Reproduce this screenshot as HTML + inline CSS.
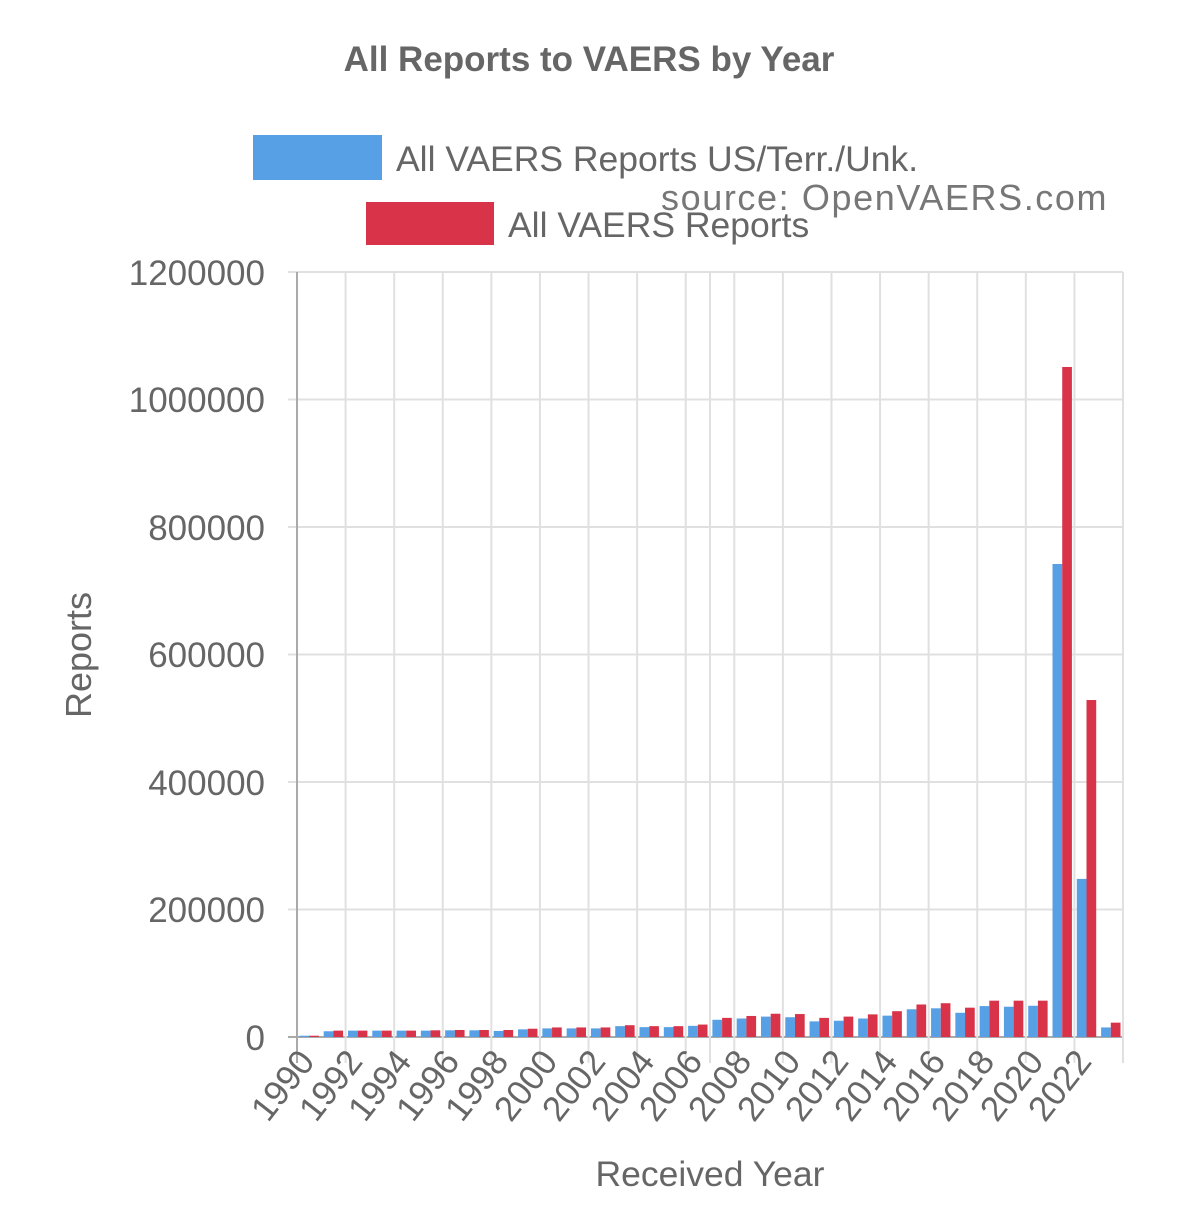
<!DOCTYPE html>
<html><head><meta charset="utf-8"><style>
body{margin:0;background:#fff;}
svg{display:block;font-family:"Liberation Sans",sans-serif;}
</style></head><body>
<svg id="c" width="1179" height="1226" viewBox="0 0 1179 1226">
<g id="grid"></g>
<g id="bars"></g>
<text x="589" y="71" font-size="35" font-weight="bold" fill="#666" text-anchor="middle">All Reports to VAERS by Year</text>
<rect x="253" y="135" width="129" height="45" fill="#57a0e5"/>
<text x="396" y="171" font-size="35.5" fill="#666">All VAERS Reports US/Terr./Unk.</text>
<rect x="366" y="202" width="128" height="43" fill="#d9334a"/>
<text x="508" y="237" font-size="35.5" fill="#666">All VAERS Reports</text>
<text x="661" y="210" font-size="36" fill="#777" letter-spacing="1.6">source: OpenVAERS.com</text>
<g font-size="35" fill="#666" text-anchor="end">
<text x="265" y="285">1200000</text>
<text x="265" y="412">1000000</text>
<text x="265" y="540">800000</text>
<text x="265" y="667">600000</text>
<text x="265" y="795">400000</text>
<text x="265" y="922">200000</text>
<text x="265" y="1050">0</text>
</g>
<text transform="translate(91,655) rotate(-90)" font-size="36" fill="#666" text-anchor="middle">Reports</text>
<text x="710" y="1186" font-size="35.5" fill="#666" text-anchor="middle">Received Year</text>
<g font-size="35" fill="#666" text-anchor="end">
<text transform="translate(316,1062) rotate(-52)">1990</text>
<text transform="translate(364,1062) rotate(-52)">1992</text>
<text transform="translate(413,1062) rotate(-52)">1994</text>
<text transform="translate(461,1062) rotate(-52)">1996</text>
<text transform="translate(510,1062) rotate(-52)">1998</text>
<text transform="translate(559,1062) rotate(-52)">2000</text>
<text transform="translate(607,1062) rotate(-52)">2002</text>
<text transform="translate(656,1062) rotate(-52)">2004</text>
<text transform="translate(704,1062) rotate(-52)">2006</text>
<text transform="translate(753,1062) rotate(-52)">2008</text>
<text transform="translate(802,1062) rotate(-52)">2010</text>
<text transform="translate(850,1062) rotate(-52)">2012</text>
<text transform="translate(899,1062) rotate(-52)">2014</text>
<text transform="translate(947,1062) rotate(-52)">2016</text>
<text transform="translate(996,1062) rotate(-52)">2018</text>
<text transform="translate(1045,1062) rotate(-52)">2020</text>
<text transform="translate(1093,1062) rotate(-52)">2022</text>
</g>
</svg>
<script>
(function(){
var NS="http://www.w3.org/2000/svg";
function el(p,t,a){var e=document.createElementNS(NS,t);for(var k in a)e.setAttribute(k,a[k]);p.appendChild(e);return e;}
var g=document.getElementById('grid'),b=document.getElementById('bars');
var L=297,R=1123,Y0=1037,s=765/1200000,n=34,w=(R-L)/n;
for(var i=0;i<=6;i++){var y=Y0-i*200000*s;el(g,'line',{x1:288,x2:R,y1:y,y2:y,stroke:i==0?'#aaa':'#e0e0e0','stroke-width':2});}
var xs=[];for(var k=0;k<=16;k++)xs.push(L+k*2*w);xs.push(710);xs.push(R);
xs.forEach(function(x,j){el(g,'line',{x1:x,x2:x,y1:272,y2:1063,stroke:j==0?'#aaa':'#e0e0e0','stroke-width':2});});
var blue=[2000,9000,10000,10000,10000,10000,10500,10500,9500,12000,13500,13500,13500,17000,15500,15500,17500,27000,29000,32000,31000,24500,25500,29000,33500,43500,45000,38000,48500,47500,49000,742000,248000,15000];
var red=[2000,10000,10000,10000,10000,10500,11000,11000,11000,13000,15000,15000,15000,18500,17000,17000,19500,30000,33000,36500,36000,30000,32000,35500,40500,51000,53000,46000,57000,57000,57000,1051000,528600,22500];
var bw=9.7;
for(var i=0;i<n;i++){var x0=L+i*w+2.4;
var hb=blue[i]*s,hr=red[i]*s;
el(b,'rect',{x:x0,y:Y0-hb,width:bw,height:hb,fill:'#57a0e5'});
el(b,'rect',{x:x0+bw,y:Y0-hr,width:bw,height:hr,fill:'#d9334a'});}
})();
</script>
</body></html>
